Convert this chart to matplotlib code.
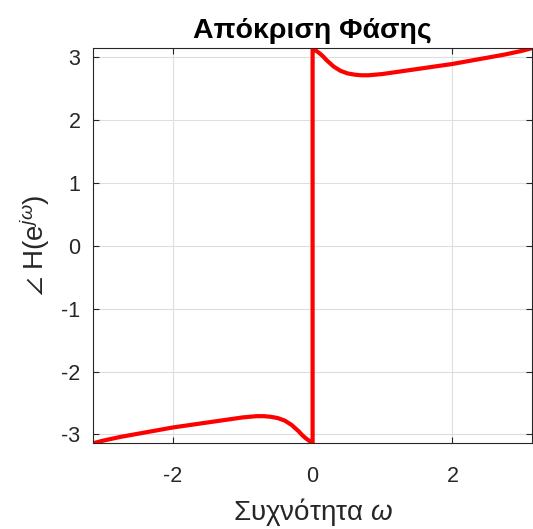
import numpy as np
import matplotlib
matplotlib.use("Agg")
import matplotlib.pyplot as plt

# =========================================================
# Data
# =========================================================

w_neg = [-3.1416, -3.0, -2.75, -2.5, -2.25, -2.0, -1.75, -1.5, -1.25, -1.0,
         -0.8, -0.7, -0.6, -0.5, -0.4, -0.3, -0.2, -0.15, -0.1, -0.05, 0.0]
phase_neg = [-3.1416, -3.10, -3.04, -2.99, -2.94, -2.89, -2.85, -2.81, -2.77, -2.73,
             -2.71, -2.71, -2.72, -2.74, -2.78, -2.85, -2.95, -3.01, -3.06, -3.10, -3.1416]

w_pos = [0.0, 0.05, 0.1, 0.15, 0.2, 0.3, 0.4, 0.5, 0.6, 0.7,
         0.8, 1.0, 1.25, 1.5, 1.75, 2.0, 2.25, 2.5, 2.75, 3.0, 3.1416]
phase_pos = [3.1416, 3.10, 3.06, 3.01, 2.95, 2.85, 2.78, 2.74, 2.72, 2.71,
             2.71, 2.73, 2.77, 2.81, 2.85, 2.89, 2.94, 2.99, 3.04, 3.10, 3.1416]

x_ticks = [-2, 0, 2]
y_ticks = [-3, -2, -1, 0, 1, 2, 3]

TITLE = "Απόκριση Φάσης"
XLABEL = r"Συχνότητα $\omega$"
YLABEL = r"$\angle$ H(e$^{j\omega}$)"

# =========================================================
# Style
# =========================================================

plt.rcParams["font.family"] = ["Liberation Sans", "DejaVu Sans"]
plt.rcParams["mathtext.fontset"] = "custom"
plt.rcParams["mathtext.rm"] = "Liberation Sans"
plt.rcParams["mathtext.it"] = "Liberation Sans:italic"
plt.rcParams["axes.unicode_minus"] = False

fig = plt.figure(figsize=(5.33, 5.29), dpi=100)
ax = fig.add_axes([0.1745, 0.162, 0.824, 0.747])

w_all = w_neg + w_pos
phase_all = phase_neg + phase_pos

ax.plot(w_all, phase_all, color="#ff0000", linewidth=3.0, solid_joinstyle="round")

ax.set_xlim(-np.pi, np.pi)
ax.set_ylim(-np.pi, np.pi)
ax.set_xticks(x_ticks)
ax.set_yticks(y_ticks)

ax.grid(True, color="#dedede", linewidth=0.8)
ax.set_axisbelow(True)

ax.tick_params(direction="in", top=True, right=True, length=4,
               labelsize=15.5, colors="#262626", width=0.8)
ax.tick_params(axis="x", pad=16)
ax.tick_params(axis="y", pad=9)
for spine in ax.spines.values():
    spine.set_color("#262626")
    spine.set_linewidth(0.8)

ax.set_title(TITLE, fontsize=20.5, fontweight="bold", pad=7)
ax.set_xlabel(XLABEL, fontsize=20, color="#262626", labelpad=7)
ax.set_ylabel(YLABEL, fontsize=20, color="#262626", labelpad=7)

fig.savefig("out.png", dpi=100)
